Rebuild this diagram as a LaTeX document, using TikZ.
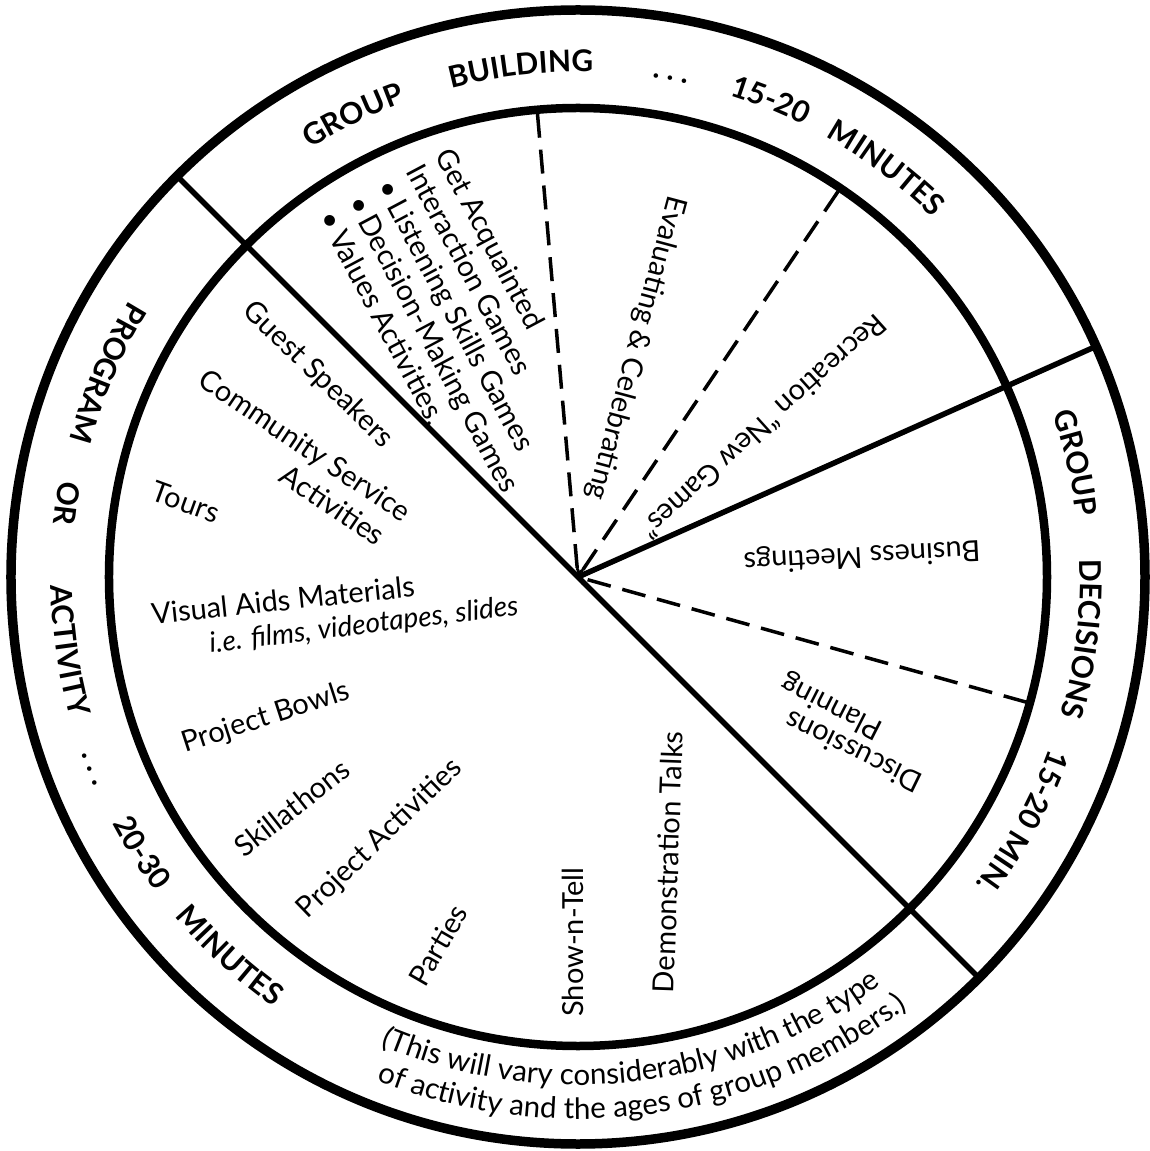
\documentclass[tikz,border=0pt]{standalone}
\usepackage{fontspec}
\setmainfont{Lato}
\usetikzlibrary{shapes,arrows,decorations.text}

\newcommand{\ringfont}{\fontsize{30}{30}\selectfont\bfseries}
\newcommand{\notefont}{\fontsize{29.5}{29.5}\selectfont}

\tikzset{
	wheel/.style={line width=9.5pt},
	hubring/.style={line width=8.5pt},
	split/.style={line width=5.5pt},
	subsplit/.style={line width=3.5pt, dash pattern=on 24pt off 12pt, -to},
	item/.style={font=\fontsize{29}{33}\selectfont, inner sep=0pt},
	ringcw/.style={decorate, decoration={text along path, text align=center, text={|\ringfont|#1}}},
	ringccw/.style={decorate, decoration={text along path, text align=center, text={|\ringfont|#1}}},
	ringnote/.style={decorate, decoration={text along path, text align=center, text={|\notefont|#1}}},
}

\begin{document}
\begin{tikzpicture}[x=1pt, y=1pt]
	\useasboundingbox (-578,-574) rectangle (571,577);

	\coordinate (hub) at (0,0);
	\coordinate (cutnw) at (135:567);
	\coordinate (cutse) at (-45:567);
	\coordinate (cutne) at (24:567);
	\coordinate (evalcut) at (95:465);
	\coordinate (reccut) at (56:465);
	\coordinate (plancut) at (-15.6:466);

	\draw[wheel] (hub) circle[radius=567];
	\draw[hubring] (hub) circle[radius=469];

	\draw[split] (cutnw) -- (hub) -- (cutse);
	\draw[split] (hub) -- (cutne);
	\draw[subsplit] (evalcut) -- (hub);
	\draw[subsplit] (reccut) -- (hub);
	\draw[subsplit] (plancut) -- (hub);

	\path[ringcw={GROUP}] (141:505) arc[start angle=141, end angle=91, radius=505];
	\path[ringcw={BUILDING}] (121.4:505) arc[start angle=121.4, end angle=71.4, radius=505];
	\path[ringcw={. . .}] (104.5:505) arc[start angle=104.5, end angle=54.5, radius=505];
	\path[ringcw={15-20}] (93:505) arc[start angle=93, end angle=43, radius=505];
	\path[ringcw={MINUTES}] (78:505) arc[start angle=78, end angle=28, radius=505];

	\path[ringcw={GROUP}] (37.9:502) arc[start angle=37.9, end angle=-12.1, radius=502];
	\path[ringcw={DECISIONS}] (18:502) arc[start angle=18, end angle=-32, radius=502];
	\path[ringcw={15-20 MIN.}] (-3.9:502) arc[start angle=-3.9, end angle=-53.9, radius=502];

	\path[ringccw={PROGRAM}] (131.6:527) arc[start angle=131.6, end angle=181.6, radius=527];
	\path[ringccw={OR}] (146.8:527) arc[start angle=146.8, end angle=196.8, radius=527];
	\path[ringccw={ACTIVITY}] (163.2:527) arc[start angle=163.2, end angle=213.2, radius=527];
	\path[ringccw={. . .}] (176.5:527) arc[start angle=176.5, end angle=226.5, radius=527];
	\path[ringccw={20-30}] (187.3:527) arc[start angle=187.3, end angle=237.3, radius=527];
	\path[ringccw={MINUTES}] (202.4:527) arc[start angle=202.4, end angle=252.4, radius=527];

	\path[ringnote={(This will vary considerably with the type}] (221.9:508) arc[start angle=221.9, end angle=331.9, radius=508];
	\path[ringnote={of activity and the ages of group members.)}] (222.8:542) arc[start angle=222.8, end angle=332.8, radius=542];

	\node[item, rotate=-62, align=left] (getacq) at (-116,248) {Get Acquainted\\Interaction Games\\\textbullet\,Listening Skills Games\\\textbullet\,Decision-Making Games\\\textbullet\,Values Activities,};
	\node[item, rotate=-105] (evaluate) at (58,229) {Evaluating \& Celebrating};
	\node[item, rotate=222] (recreate) at (186,150) {Recreation ``New Games''};
	\node[item, rotate=183] (business) at (284,22) {Business Meetings};
	\node[item, rotate=154] (discuss) at (275,-175) {Discussions};
	\node[item, rotate=153] (planning) at (254,-129) {Planning};
	\node[item, rotate=88] (demo) at (90,-285) {Demonstration Talks};
	\node[item, rotate=90] (showtell) at (-5,-365) {Show-n-Tell};
	\node[item, rotate=60] (parties) at (-140,-368) {Parties};
	\node[item, rotate=44] (projact) at (-198,-262) {Project Activities};
	\node[item, rotate=38] (skill) at (-286,-231) {Skillathons};
	\node[item, rotate=18] (bowls) at (-312,-141) {Project Bowls};
	\node[item, rotate=6] (visual) at (-295,-23) {Visual Aids Materials};
	\node[item, rotate=7, font=\fontsize{28}{33}\selectfont\itshape] (films) at (-214,-49) {i.e. films, videotapes, slides};
	\node[item, rotate=-20] (tours) at (-392,75) {Tours};
	\node[item, rotate=-34] (community) at (-274,130) {Community Service};
	\node[item, rotate=-34] (commact) at (-245,72) {Activities};
	\node[item, rotate=-44] (guest) at (-260,202) {Guest Speakers};
\end{tikzpicture}
\end{document}
